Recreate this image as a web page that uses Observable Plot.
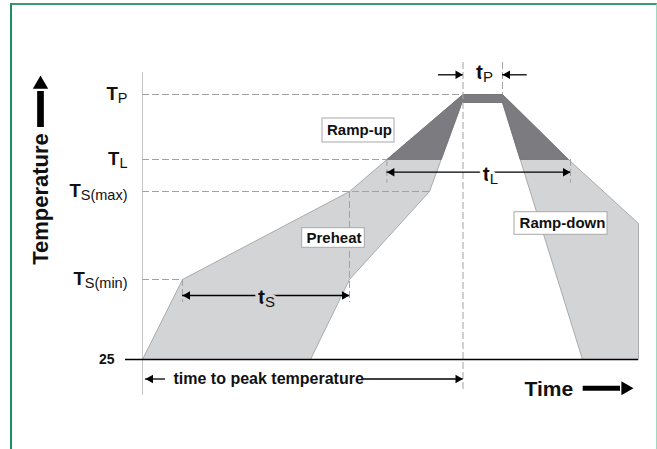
<!DOCTYPE html>
<html>
<head>
<meta charset="utf-8">
<script src="https://cdn.jsdelivr.net/npm/d3@7"></script>
<script src="https://cdn.jsdelivr.net/npm/@observablehq/plot@0.6"></script>
<style>
html, body { margin: 0; padding: 0; background: #fff; overflow: hidden; }
#wrap { position: relative; width: 657px; height: 449px; }
#wrap svg { position: absolute; left: 0; top: 0; }
#frame { position: absolute; left: 10px; top: 3px; width: 647px; height: 470px;
  border-left: 2px solid #1e8f5f; border-top: 2px solid #3a9a70; border-right: 1.5px solid #9fd8c3;
  box-sizing: border-box; pointer-events: none; }
</style>
</head>
<body>
<div id="wrap"><div id="frame"></div></div>
<script>
// ---------------- data (time in s from start, temperature in chart units) ----------------
const levelMain  = ["25", "T", "T", "T", "T"];
const levelSub   = ["", "S(min)", "S(max)", "L", "P"];
const levelTemp  = [25, 105, 193, 225, 290];
const levelReach = [null, 40, 287, 244.4, 320.5];   // where each dashed guide meets the profile

// upper (fastest) profile, left to right
const upperTime = [0, 40, 207, 320.5, 360, 426, 496, 496];
const upperTemp = [25, 105, 193, 290, 290, 225, 161, 25];
// lower (slowest) profile, right to left
const lowerTime = [440, 360, 319.5, 287, 207, 168];
const lowerTemp = [25, 282, 282, 193, 105, 25];
// part of the band above liquidus
const liqTime = [244.4, 320.5, 360, 426, 377.7, 360, 319.5, 298.7];
const liqTemp = [225, 290, 290, 225, 225, 282, 282, 225];

// time intervals tS, tL, tP
const intervalMain  = ["t", "t", "t"];
const intervalSub   = ["S", "L", "P"];
const intervalStart = [40, 244.4, 320.5];
const intervalEnd   = [207, 428, 360];
const peakTime = 320.5;

const regionNames = ["Ramp-up", "Preheat", "Ramp-down"];

// ---------------- layout ----------------
const FONT = "'Liberation Sans', Arial, Helvetica, sans-serif";
const GUIDE = "#a2a2a2";
const LIGHT = "#d3d4d6";
const DARK = "#7c7c80";

const band = [];
upperTime.forEach((t, i) => band.push({t, T: upperTemp[i]}));
lowerTime.forEach((t, i) => band.push({t, T: lowerTemp[i]}));
band.push(band[0]);
const liq = liqTime.map((t, i) => ({t, T: liqTemp[i]}));
liq.push(liq[0]);

const rowY = [89, 212.3, 309.7];        // vertical position of each interval arrow
const peakRowY = 5.5;                    // "time to peak temperature" arrow

const vGuides = [
  {x: peakTime, y1: 322, y2: -8},
  {x: intervalEnd[2], y1: 322, y2: levelTemp[4]},
  {x: intervalStart[0], y1: levelTemp[1], y2: rowY[0] - 7},
  {x: intervalEnd[0], y1: levelTemp[2], y2: rowY[0] - 7},
  {x: intervalStart[1], y1: levelTemp[3], y2: rowY[1] - 11},
  {x: intervalEnd[1], y1: levelTemp[3], y2: rowY[1] - 11}
];

const segs = [
  {y: rowY[0], x1: intervalStart[0], x2: intervalEnd[0]},
  {y: rowY[1], x1: intervalStart[1], x2: intervalEnd[1]},
  {y: rowY[2], x1: intervalStart[2] - 24.5, x2: intervalStart[2]},
  {y: rowY[2], x1: intervalEnd[2], x2: intervalEnd[2] + 24.7},
  {y: peakRowY, x1: 3, x2: 23},
  {y: peakRowY, x1: 221, x2: peakTime}
];
const headsRight = [
  {x: intervalEnd[0], y: rowY[0]},
  {x: intervalEnd[1], y: rowY[1]},
  {x: intervalStart[2], y: rowY[2]},
  {x: peakTime, y: peakRowY}
];
const headsLeft = [
  {x: intervalStart[0], y: rowY[0]},
  {x: intervalStart[1], y: rowY[1]},
  {x: intervalEnd[2], y: rowY[2]},
  {x: 3, y: peakRowY}
];

const boxes = [
  {x1: 180, x2: 252, y1: 242, y2: 266, cx: 217, cy: 254},
  {x1: 159.7, x2: 222.3, y1: 136.7, y2: 156.3, cx: 191.5, cy: 146.5},
  {x1: 372, x2: 465, y1: 149.7, y2: 172.3, cx: 420, cy: 161}
];

const tLabelPos = [{x: 124, y: 81}, {x: 348, y: 204}, {x: 342, y: 306}];

const plot = Plot.plot({
  width: 657, height: 449,
  marginLeft: 142, marginRight: 19, marginTop: 94, marginBottom: 90,
  x: {domain: [0, 496], axis: null},
  y: {domain: [25, 290], axis: null},
  style: {fontFamily: FONT, background: "transparent", overflow: "visible", color: "#111"},
  marks: [
    // vertical axis line
    Plot.ruleX([0], {y1: -11, y2: 312, stroke: "#c4c4c4", strokeWidth: 1}),
    // process window band
    Plot.line(band, {x: "t", y: "T", fill: LIGHT, stroke: "#9a9a9a", strokeWidth: 0.8}),
    Plot.line(liq, {x: "t", y: "T", fill: DARK, stroke: "#707074", strokeWidth: 0.8}),
    // dashed guides
    Plot.ruleY(d3.range(1, 5), {y: i => levelTemp[i], x1: 0, x2: i => levelReach[i], stroke: GUIDE, strokeWidth: 1, strokeDasharray: "7,3"}),
    Plot.ruleX(vGuides, {x: "x", y1: "y1", y2: "y2", stroke: GUIDE, strokeWidth: 1, strokeDasharray: "7,3"}),
    // baseline
    Plot.ruleY([25], {x1: -17, x2: 496, stroke: "#000", strokeWidth: 1.3}),
    // interval arrows
    Plot.ruleY(segs, {y: "y", x1: "x1", x2: "x2", stroke: "#000", strokeWidth: 1.3}),
    Plot.dot(headsRight, {x: "x", y: "y", symbol: "triangle", r: 3.2, fill: "#000", stroke: "none", rotate: 90, dx: -5}),
    Plot.dot(headsLeft, {x: "x", y: "y", symbol: "triangle", r: 3.2, fill: "#000", stroke: "none", rotate: -90, dx: 5}),
    // big axis arrows
    Plot.ruleX([-102], {y1: 257, y2: 293, stroke: "#000", strokeWidth: 6.7}),
    Plot.dot([0], {x: () => -102, y: () => 300.2, symbol: "triangle", r: 5.7, fill: "#000", stroke: "none"}),
    Plot.ruleY([-3.7], {x1: 440.7, x2: 478, stroke: "#000", strokeWidth: 5}),
    Plot.dot([0], {x: () => 482.9, y: () => -3.7, symbol: "triangle", r: 5.2, fill: "#000", stroke: "none", rotate: 90}),
    // region boxes
    Plot.rect(boxes, {x1: "x1", x2: "x2", y1: "y1", y2: "y2", fill: "white", stroke: "#a8a8a8", strokeWidth: 1}),
    Plot.text(boxes, {x: "cx", y: "cy", text: (d, i) => regionNames[i], fontSize: 15, fontWeight: "bold", lineAnchor: "middle", fill: "#111"}),
    // level labels
    Plot.text(d3.range(1, 5), {x: () => -15, y: i => levelTemp[i], text: i => levelMain[i] + "|" + levelSub[i], textAnchor: "end", lineAnchor: "middle", fontSize: 18.5, fontWeight: "bold", fill: "#111"}),
    Plot.text([0], {x: () => -28, y: i => levelTemp[i], text: i => levelMain[i], textAnchor: "end", lineAnchor: "middle", fontSize: 14, fontWeight: "bold", fill: "#111"}),
    // interval labels
    Plot.text([0], {x: () => tLabelPos[0].x, y: () => tLabelPos[0].y, text: () => intervalMain[0] + "|" + intervalSub[0], textAnchor: "middle", lineAnchor: "bottom", fontSize: 21, fontWeight: "bold", fill: "#111", stroke: LIGHT, strokeWidth: 6}),
    Plot.text([1, 2], {x: i => tLabelPos[i].x, y: i => tLabelPos[i].y, text: i => intervalMain[i] + "|" + intervalSub[i], textAnchor: "middle", lineAnchor: "bottom", fontSize: 21, fontWeight: "bold", fill: "#111", stroke: "white", strokeWidth: 6}),
    // axis titles
    Plot.text([0], {x: () => -101.5, y: () => 185.5, text: () => "Temperature", rotate: -90, fontSize: 22, fontWeight: "bold", lineAnchor: "middle", fill: "#111"}),
    Plot.text([0], {x: () => 382, y: () => -11, text: () => "Time", textAnchor: "start", lineAnchor: "bottom", fontSize: 21, fontWeight: "bold", fill: "#111"}),
    Plot.text([0], {x: () => 31, y: () => peakRowY, text: () => "time to peak temperature", textAnchor: "start", lineAnchor: "middle", fontSize: 16, fontWeight: "bold", fill: "#111"})
  ]
});

// turn "main|sub" strings into a main glyph followed by a subscript
plot.querySelectorAll("text").forEach(el => {
  const s = el.textContent;
  if (!s.includes("|")) return;
  const parts = s.split("|");
  const upper = parts[0] === "T";
  while (el.firstChild) el.removeChild(el.firstChild);
  const a = document.createElementNS("http://www.w3.org/2000/svg", "tspan");
  a.textContent = parts[0];
  el.appendChild(a);
  const b = document.createElementNS("http://www.w3.org/2000/svg", "tspan");
  b.textContent = parts[1];
  b.style.fontSize = (upper ? 14.5 : 15) + "px";
  b.style.fontWeight = "normal";
  b.setAttribute("dy", 3);
  el.appendChild(b);
});

document.getElementById("wrap").insertBefore(plot, document.getElementById("frame"));
</script>
</body>
</html>
